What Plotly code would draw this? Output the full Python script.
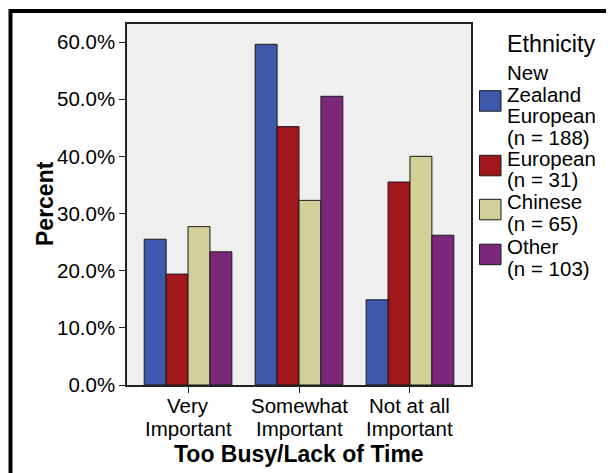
import plotly.graph_objects as go

# ---- data ----
categories = ["Very<br>Important", "Somewhat<br>Important", "Not at all<br>Important"]
series_names = ["New Zealand European", "European", "Chinese", "Other"]
legend_labels = ["New<br>Zealand<br>European<br>(n = 188)", "European<br>(n = 31)",
                 "Chinese<br>(n = 65)", "Other<br>(n = 103)"]
nz_european = [25.5, 59.6, 14.9]
european = [19.4, 45.2, 35.5]
chinese = [27.7, 32.3, 40.0]
other = [23.3, 50.5, 26.2]
series_values = [nz_european, european, chinese, other]
colors = ["#3E58AB", "#A0161B", "#D3CF98", "#7B287B"]
y_ticks = [0, 10, 20, 30, 40, 50, 60]
y_tick_labels = ["0.0%", "10.0%", "20.0%", "30.0%", "40.0%", "50.0%", "60.0%"]
x_title = "Too Busy/Lack of Time"
y_title = "Percent"
legend_title = "Ethnicity"

# ---- layout geometry (pixels, in page coordinates) ----
W, H = 614, 473
OFF = 8  # page body margin of the html page
L, R, T, B = 127, 471, 24, 385
FONT = "Liberation Sans, Arial, sans-serif"


def px_x(p):
    return (p - L) / (R - L)


def px_y(p):
    return (B - p) / (B - T)


fig = go.Figure()
for name, vals, col in zip(series_names, series_values, colors):
    fig.add_trace(go.Bar(
        x=categories, y=vals, name=name,
        marker=dict(color=col, line=dict(color="#1a1a1a", width=1)),
        showlegend=False,
    ))

annotations = []
shapes = []

# x tick labels (two lines each)
for i, cat in enumerate(categories):
    for j, line in enumerate(cat.split("<br>")):
        annotations.append(dict(
            x=i, xref="x", y=px_y(405.2 + 23 * j), yref="paper",
            text=line, showarrow=False, xanchor="center", yanchor="middle",
            font=dict(family=FONT, size=20.5, color="black")))

# axis titles
annotations.append(dict(
    x=0.5, xref="paper", y=px_y(454), yref="paper", text="<b>%s</b>" % x_title,
    showarrow=False, xanchor="center", yanchor="middle",
    font=dict(family=FONT, size=23, color="black")))
annotations.append(dict(
    x=px_x(45), xref="paper", y=px_y(204), yref="paper", text="<b>%s</b>" % y_title,
    showarrow=False, xanchor="center", yanchor="middle", textangle=-90,
    font=dict(family=FONT, size=23, color="black")))

# legend (manual, to match swatch size and tight spacing)
annotations.append(dict(
    x=px_x(505), xref="paper", y=px_y(43.5), yref="paper", text=legend_title,
    showarrow=False, xanchor="left", yanchor="middle",
    font=dict(family=FONT, size=23.3, color="black")))
entry_centers = [104.8, 169.2, 212.7, 257.4]
swatch_top = [90.7, 155.3, 199.3, 244.2]
PITCH = 21.5
for k, (lab, col) in enumerate(zip(legend_labels, colors)):
    lines = lab.split("<br>")
    first = entry_centers[k] - PITCH * (len(lines) - 1) / 2
    for j, line in enumerate(lines):
        annotations.append(dict(
            x=px_x(505), xref="paper", y=px_y(first + PITCH * j), yref="paper",
            text=line, showarrow=False, xanchor="left", yanchor="middle",
            font=dict(family=FONT, size=20.5, color="black")))
    shapes.append(dict(
        type="rect", xref="paper", yref="paper",
        x0=px_x(479.5), x1=px_x(501), y0=px_y(swatch_top[k]), y1=px_y(swatch_top[k] + 20.5),
        fillcolor=col, line=dict(color="#1a1a1a", width=1)))

# outer black frame
shapes.append(dict(
    type="rect", xref="paper", yref="paper",
    x0=px_x(10.5), x1=px_x(W + 20), y0=px_y(11), y1=px_y(H + 20),
    line=dict(color="black", width=4), fillcolor="rgba(0,0,0,0)", layer="above"))

fig.update_layout(
    width=W - OFF, height=H - OFF,
    margin=dict(l=L - OFF, r=W - R, t=T - OFF, b=H - B, pad=0),
    paper_bgcolor="white", plot_bgcolor="#EFEFEF",
    barmode="group", bargap=0.21, bargroupgap=0,
    font=dict(family=FONT, size=20.5, color="black"),
    annotations=annotations, shapes=shapes,
    showlegend=False,
)
fig.update_xaxes(
    type="category", categoryorder="array", categoryarray=categories,
    range=[-0.55, 2.55], showticklabels=False, ticks="outside", ticklen=6,
    tickcolor="#222", tickwidth=1, showline=True, linecolor="#222", linewidth=1.5,
    mirror=True, showgrid=False, zeroline=False, automargin=False)
fig.update_yaxes(
    range=[0, 63.15], tickmode="array", tickvals=y_ticks, ticktext=y_tick_labels,
    ticks="outside", ticklen=6, tickcolor="#222", tickwidth=1,
    showline=True, linecolor="#222", linewidth=1.5, mirror=True,
    showgrid=False, zeroline=False, automargin=False,
    tickfont=dict(family=FONT, size=20.5, color="black"))

fig.write_html("out.html")
